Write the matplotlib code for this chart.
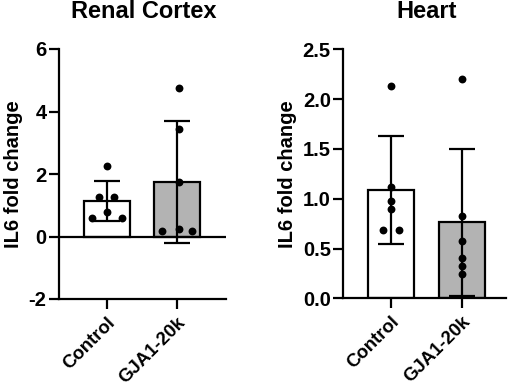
import numpy as np
import matplotlib
matplotlib.use("Agg")
import matplotlib.pyplot as plt
from matplotlib.transforms import ScaledTranslation

plt.rcParams['font.family'] = ['Liberation Sans', 'DejaVu Sans']
plt.rcParams['font.weight'] = 'bold'

groups = ["Control", "GJA1-20k"]
renal_control = [2.27, 1.25, 1.25, 0.80, 0.59, 0.59]
renal_gja1 = [4.76, 3.44, 1.73, 0.24, 0.17, 0.17]
heart_control = [2.135, 1.12, 0.977, 0.90, 0.69, 0.69]
heart_gja1 = [2.20, 0.826, 0.575, 0.408, 0.32, 0.24]

renal_yticks = [-2, 0, 2, 4, 6]
heart_yticks = [0.0, 0.5, 1.0, 1.5, 2.0, 2.5]

# horizontal scatter offsets (layout only)
renal_ctrl_dx = [0, -0.107, 0.107, 0, -0.214, 0.214]
renal_gja_dx = [0.03, 0.03, 0.03, 0.03, -0.214, 0.214]
heart_ctrl_dx = [0, 0, 0, 0, -0.11, 0.11]
heart_gja_dx = [0, 0, 0, 0, 0, 0]

bar_colors = ["white", "#b3b3b3"]
LW = 1.6
FS = 14.5
XFS = 13.4

fig = plt.figure(figsize=(5.11, 3.86), dpi=100)
ax1 = fig.add_axes([59/511, 1-299/386, (226-59)/511, 250/386])
ax2 = fig.add_axes([343.3/511, 1-298.3/386, (506-343.3)/511, 249/386])

shift = ScaledTranslation(-1/100, 4/100, fig.dpi_scale_trans)

def panel(ax, data, offsets, title, tx, yticks, ylim, xlim, fmt, zero_line):
    for i, (vals, dx) in enumerate(zip(data, offsets)):
        vals = np.array(vals)
        m = vals.mean()
        sd = vals.std(ddof=1)
        ax.bar(i, m, width=0.66, color=bar_colors[i], edgecolor='black',
               linewidth=LW, zorder=2)
        ax.errorbar(i, m, yerr=sd, color='black', elinewidth=LW, capsize=9.3,
                    capthick=LW, zorder=3)
        ax.scatter(i + np.array(dx), vals, s=32, color='black', zorder=4,
                   linewidths=0)
    if zero_line:
        ax.axhline(0, color='black', linewidth=LW, zorder=5)
    ax.set_xlim(*xlim)
    ax.set_ylim(*ylim)
    ax.set_yticks(yticks)
    ax.set_yticklabels([fmt.format(t) for t in yticks])
    ax.set_xticks(range(len(groups)))
    ax.set_xticklabels(groups, rotation=45, ha='right', va='top',
                       rotation_mode='anchor', fontsize=XFS)
    for lab in ax.get_xticklabels():
        lab.set_transform(lab.get_transform() + shift)
    for s in ['top', 'right']:
        ax.spines[s].set_visible(False)
    for s in ['left', 'bottom']:
        ax.spines[s].set_linewidth(LW)
    ax.tick_params(axis='both', width=LW, length=7, pad=2)
    ax.tick_params(axis='y', labelsize=FS)
    ax.tick_params(axis='x', pad=4)
    ax.set_ylabel("IL6 fold change", fontsize=FS, fontweight='bold', labelpad=4)
    fig.text(tx/511, 1-17.5/386, title, fontsize=17, fontweight='bold',
             ha='center', va='baseline')

panel(ax1, [renal_control, renal_gja1], [renal_ctrl_dx, renal_gja_dx],
      "Renal Cortex", 144, renal_yticks, (-2, 6), (-0.681, 1.704), "{:d}", True)
panel(ax2, [heart_control, heart_gja1], [heart_ctrl_dx, heart_gja_dx],
      "Heart", 427, heart_yticks, (0, 2.5), (-0.672, 1.62), "{:.1f}", False)

fig.savefig("out.png", dpi=100)
